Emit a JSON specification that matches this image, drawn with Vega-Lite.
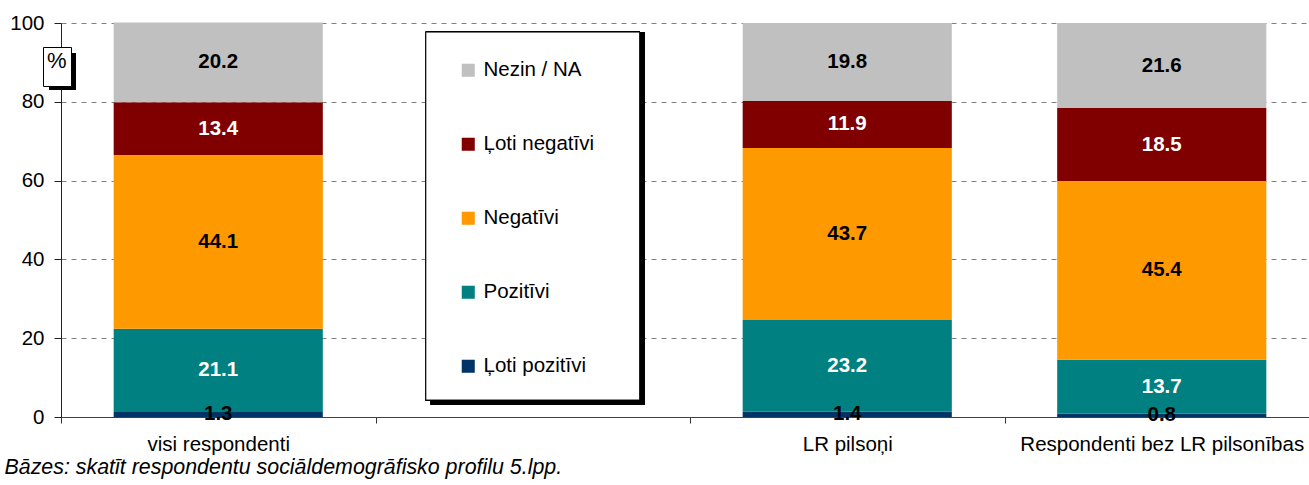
{
  "$schema": "https://vega.github.io/schema/vega-lite/v6.json",
  "width": 1258,
  "height": 394,
  "autosize": {"type": "none"},
  "padding": {"left": 61, "top": 23, "right": 0, "bottom": 68},
  "background": "white",
  "config": {
    "view": {"stroke": null},
    "font": "Liberation Sans",
    "legend": {
      "orient": "none",
      "padding": 0,
      "labelFont": "Liberation Sans",
      "labelColor": "black"
    }
  },
  "data": {
    "values": [
      {"g": "visi respondenti", "c": "Ļoti pozitīvi", "v": 1.3, "o": 1},
      {"g": "visi respondenti", "c": "Pozitīvi", "v": 21.1, "o": 2},
      {"g": "visi respondenti", "c": "Negatīvi", "v": 44.1, "o": 3},
      {"g": "visi respondenti", "c": "Ļoti negatīvi", "v": 13.4, "o": 4},
      {"g": "visi respondenti", "c": "Nezin / NA", "v": 20.2, "o": 5},
      {"g": "LR pilsoņi", "c": "Ļoti pozitīvi", "v": 1.4, "o": 1},
      {"g": "LR pilsoņi", "c": "Pozitīvi", "v": 23.2, "o": 2},
      {"g": "LR pilsoņi", "c": "Negatīvi", "v": 43.7, "o": 3},
      {"g": "LR pilsoņi", "c": "Ļoti negatīvi", "v": 11.9, "o": 4},
      {"g": "LR pilsoņi", "c": "Nezin / NA", "v": 19.8, "o": 5},
      {"g": "Respondenti bez LR pilsonības", "c": "Ļoti pozitīvi", "v": 0.8, "o": 1},
      {"g": "Respondenti bez LR pilsonības", "c": "Pozitīvi", "v": 13.7, "o": 2},
      {"g": "Respondenti bez LR pilsonības", "c": "Negatīvi", "v": 45.4, "o": 3},
      {"g": "Respondenti bez LR pilsonības", "c": "Ļoti negatīvi", "v": 18.5, "o": 4},
      {"g": "Respondenti bez LR pilsonības", "c": "Nezin / NA", "v": 21.6, "o": 5}
    ]
  },
  "layer": [
    {
      "mark": {"type": "bar", "color": "black", "width": {"band": 0.68}, "xOffset": 5, "yOffset": 5},
      "encoding": {
        "x": {"datum": " ", "type": "nominal", "scale": {"domain": ["visi respondenti", " ", "LR pilsoņi", "Respondenti bez LR pilsonības"], "paddingInner": 0, "paddingOuter": 0}},
        "y": {"datum": 4.3, "type": "quantitative"},
        "y2": {"datum": 97.7},
        "strokeDash": {
          "datum": "shadow",
          "type": "nominal",
          "legend": {
            "title": null,
            "labelExpr": "''",
            "labelFontSize": 1,
            "labelOffset": 0,
            "symbolType": "M-0.73,-1H0.73V1H-0.73Z",
            "symbolSize": 1369,
            "symbolFillColor": "black",
            "symbolStrokeColor": "black",
            "symbolStrokeWidth": 0,
            "symbolOpacity": 1,
            "padding": 0,
            "legendX": -17,
            "legendY": 30
          }
        }
      }
    },
    {
      "mark": {"type": "bar", "fill": "white", "stroke": "black", "strokeWidth": 1, "width": {"band": 0.68}},
      "encoding": {
        "x": {"datum": " ", "type": "nominal", "scale": {"domain": ["visi respondenti", " ", "LR pilsoņi", "Respondenti bez LR pilsonības"], "paddingInner": 0, "paddingOuter": 0}},
        "y": {"datum": 4.3, "type": "quantitative"},
        "y2": {"datum": 97.7},
        "opacity": {
          "datum": "%",
          "type": "ordinal",
          "scale": {"range": [1]},
          "legend": {
            "title": "%",
            "titleFontSize": 22,
            "titleFontWeight": "normal",
            "titleColor": "black",
            "titleFont": "Liberation Sans",
            "titlePadding": 8,
            "labelExpr": "''",
            "labelFontSize": 1,
            "symbolSize": 1,
            "symbolOpacity": 0,
            "symbolStrokeWidth": 0,
            "fillColor": "white",
            "strokeColor": "black",
            "padding": 4,
            "legendX": -18,
            "legendY": 24
          }
        }
      }
    },
    {
      "mark": {"type": "bar", "width": {"band": 0.665}},
      "encoding": {
        "x": {
          "field": "g",
          "type": "nominal",
          "sort": null,
          "scale": {"domain": ["visi respondenti", " ", "LR pilsoņi", "Respondenti bez LR pilsonības"], "paddingInner": 0, "paddingOuter": 0},
          "axis": {
            "labelAngle": 0,
            "labelFontSize": 20.5,
            "labelColor": "black",
            "labelPadding": 21,
            "labelLimit": 0,
            "labelAlign": "center",
            "tickOffset": -157.25,
            "labelOffset": 157.25,
            "tickSize": 6,
            "tickColor": "#333333",
            "domainColor": "#404040",
            "title": "Bāzes: skatīt respondentu sociāldemogrāfisko profilu 5.lpp.",
            "titleFontStyle": "italic",
            "titleFontWeight": "normal",
            "titleFontSize": 21.4,
            "titleColor": "black",
            "titleAnchor": "start",
            "titleAlign": "left",
            "titleBaseline": "middle",
            "titleX": -57,
            "titleY": 50
          }
        },
        "y": {
          "field": "v",
          "type": "quantitative",
          "stack": "zero",
          "scale": {"domain": [0, 100], "nice": false},
          "axis": {
            "values": [0, 20, 40, 60, 80, 100],
            "grid": true,
            "gridDash": [5, 5],
            "gridColor": "#808080",
            "gridWidth": 1,
            "domainColor": "#202020",
            "tickColor": "#202020",
            "tickSize": 7,
            "labelPadding": 10,
            "labelFontSize": 20.5,
            "labelColor": "black",
            "title": null
          }
        },
        "color": {
          "field": "c",
          "type": "nominal",
          "scale": {
            "domain": ["Nezin / NA", "Ļoti negatīvi", "Negatīvi", "Pozitīvi", "Ļoti pozitīvi"],
            "range": ["#C0C0C0", "#800000", "#FF9900", "#008080", "#003366"]
          },
          "legend": {
            "title": null,
            "legendX": 397,
            "legendY": 37,
            "rowPadding": 53,
            "symbolType": "square",
            "symbolSize": 170,
            "symbolStrokeWidth": 0,
            "labelFontSize": 20.5,
            "labelOffset": 5
          }
        },
        "order": {"field": "o", "type": "quantitative"}
      }
    },
    {
      "transform": [
        {"stack": "v", "groupby": ["g"], "sort": [{"field": "o", "order": "ascending"}], "as": ["v0", "v1"]},
        {"calculate": "(datum.v0 + datum.v1) / 2", "as": "mid"}
      ],
      "mark": {"type": "text", "fontWeight": "bold", "fontSize": 20.5, "baseline": "middle", "align": "center"},
      "encoding": {
        "x": {"field": "g", "type": "nominal", "scale": {"domain": ["visi respondenti", " ", "LR pilsoņi", "Respondenti bez LR pilsonības"], "paddingInner": 0, "paddingOuter": 0}},
        "y": {"field": "mid", "type": "quantitative"},
        "text": {"field": "v", "type": "quantitative", "format": ".1f"},
        "color": {
          "condition": {"test": "datum.c === 'Pozitīvi' || datum.c === 'Ļoti negatīvi'", "value": "white"},
          "value": "black"
        }
      }
    }
  ]
}
